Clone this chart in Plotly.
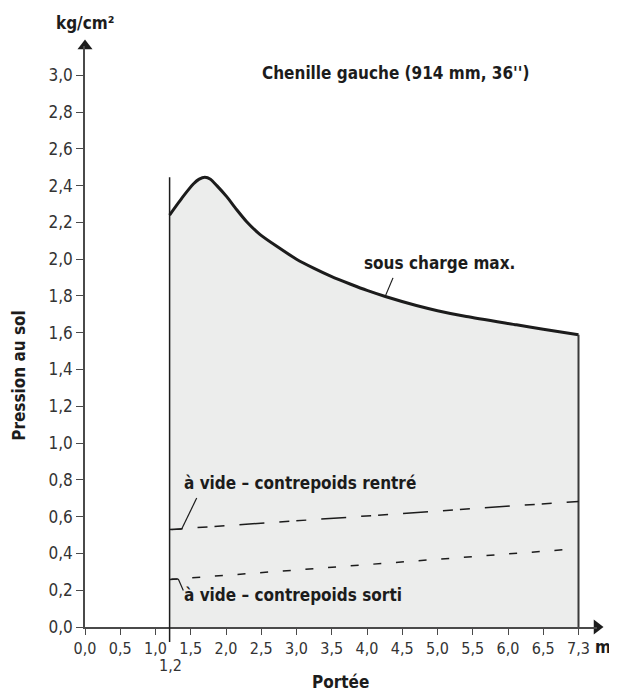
import plotly.graph_objects as go

# ---------------- data ----------------
reach_max = [1.2, 1.39, 1.54, 1.62, 1.70, 1.78, 1.87, 2.01, 2.15, 2.29, 2.48, 2.72,
             3.0, 3.25, 3.5, 3.76, 4.0, 4.26, 4.7, 5.0, 5.41, 6.12, 6.5, 7.3]
press_max = [2.24, 2.34, 2.41, 2.435, 2.445, 2.435, 2.40, 2.34, 2.27, 2.205, 2.135, 2.07,
             2.00, 1.95, 1.905, 1.865, 1.83, 1.797, 1.748, 1.72, 1.688, 1.643, 1.619, 1.589]

reach_in = [1.2, 7.3]          # à vide – contrepoids rentré
press_in = [0.53, 0.683]

reach_out = [1.2, 6.95]        # à vide – contrepoids sorti
press_out = [0.258, 0.42]

x_tick_vals = [0.0, 0.5, 1.0, 1.5, 2.0, 2.5, 3.0, 3.5, 4.0, 4.5, 5.0, 5.5, 6.0, 6.5, 7.3]
x_tick_text = ["0,0", "0,5", "1,0", "1,5", "2,0", "2,5", "3,0", "3,5", "4,0", "4,5",
               "5,0", "5,5", "6,0", "6,5", "7,3"]
y_tick_vals = [0.0, 0.2, 0.4, 0.6, 0.8, 1.0, 1.2, 1.4, 1.6, 1.8, 2.0, 2.2, 2.4, 2.6, 2.8, 3.0]
y_tick_text = ["0,0", "0,2", "0,4", "0,6", "0,8", "1,0", "1,2", "1,4", "1,6", "1,8",
               "2,0", "2,2", "2,4", "2,6", "2,8", "3,0"]

title_txt = "Chenille gauche (914 mm, 36'')"
lbl_max = "sous charge max."
lbl_in = "à vide – contrepoids rentré"
lbl_out = "à vide – contrepoids sorti"

# The original drawing compresses the last segment (6,5 -> 7,3 drawn as one 0,5 step)
def pos(x):
    return x if x <= 6.5 else 6.5 + (x - 6.5) * 0.5 / 0.8

def P(lst):
    return [pos(v) for v in lst]

# ---------------- layout geometry ----------------
OFF = 8                      # page body margin
W, H = 617 - OFF, 693 - OFF
X0_PX, Y0_PX = 85, 627.3     # reference pixel of the origin
XR_PX, YT_PX = 597, 46       # reference pixel of the plot right / top edges
L = X0_PX - OFF
T = YT_PX - OFF
R = W - (XR_PX - OFF)
B = H - (Y0_PX - OFF)
PX_PER_X = 70.5
PX_PER_Y = 184.0
x_rng = (XR_PX - X0_PX) / PX_PER_X
y_rng = (Y0_PX - YT_PX) / PX_PER_Y

def X(px):
    return (px - X0_PX) / PX_PER_X

def Y(py):
    return (Y0_PX - py) / PX_PER_Y

FONT = "Liberation Sans Narrow, DejaVu Sans Condensed, Roboto Condensed, Arial Narrow, sans-serif"
INK = "#1c1c1c"
AX = "#4a4a4a"

fig = go.Figure()

# max load curve + shaded area
fig.add_trace(go.Scatter(
    x=P(reach_max), y=press_max, mode="lines", fill="tozeroy", fillcolor="#ecedec",
    line=dict(color=INK, width=3, shape="spline", smoothing=0.6), hoverinfo="skip"))

# boundary verticals
fig.add_trace(go.Scatter(x=[pos(reach_max[0])] * 2, y=[0, max(press_max)], mode="lines",
                         line=dict(color=INK, width=1.5), hoverinfo="skip"))
fig.add_trace(go.Scatter(x=[pos(reach_max[-1])] * 2, y=[0, press_max[-1]], mode="lines",
                         line=dict(color="#3a3a3a", width=2), hoverinfo="skip"))

# empty, counterweight retracted (long-short-short dash)
dash_in = "13px,15px,10px,7px,10px,15px" + ",25px,15px,10px,7px,10px,15px" * 6
fig.add_trace(go.Scatter(x=P(reach_in), y=press_in, mode="lines",
                         line=dict(color=INK, width=1.5, dash=dash_in), hoverinfo="skip"))
# empty, counterweight extended (short dash)
fig.add_trace(go.Scatter(x=P(reach_out), y=press_out, mode="lines",
                         line=dict(color=INK, width=1.5, dash="8px,14.7px"), hoverinfo="skip"))

# axis arrow heads
fig.add_trace(go.Scatter(x=[0], y=[y_rng], mode="markers", cliponaxis=False,
                         marker=dict(symbol="triangle-up", size=13, color=INK), hoverinfo="skip"))
fig.add_trace(go.Scatter(x=[x_rng], y=[0], mode="markers", cliponaxis=False,
                         marker=dict(symbol="triangle-right", size=13, color=INK), hoverinfo="skip"))

shapes = [
    # extension of the 1,2 boundary below the axis
    dict(type="line", xref="x", yref="paper", x0=pos(reach_max[0]), x1=pos(reach_max[0]),
         y0=0, y1=-15 / (Y0_PX - YT_PX), line=dict(color=INK, width=1.5)),
    # leader: sous charge max.
    dict(type="line", xref="x", yref="y", x0=X(385), y0=Y(297), x1=X(393), y1=Y(278),
         line=dict(color=INK, width=1.2)),
    # leader: rentré
    dict(type="line", xref="x", yref="y", x0=X(171.5), y0=Y(530), x1=X(181.7), y1=Y(529.3),
         line=dict(color=INK, width=1.2)),
    dict(type="line", xref="x", yref="y", x0=X(181.7), y0=Y(529.3), x1=X(196.7), y1=Y(498.3),
         line=dict(color=INK, width=1.2)),
    # leader: sorti
    dict(type="line", xref="x", yref="y", x0=X(171.5), y0=Y(579.3), x1=X(178.3), y1=Y(579.3),
         line=dict(color=INK, width=1.2)),
    dict(type="line", xref="x", yref="y", x0=X(178.3), y0=Y(579.3), x1=X(183.3), y1=Y(590.7),
         line=dict(color=INK, width=1.2)),
]

bold = dict(family=FONT, size=17, color=INK, weight="bold")
reg = dict(family=FONT, size=16, color="#333333")
reg_y = dict(family=FONT, size=17, color="#333333")

def ann(px, py, text, font, xanchor="center", **kw):
    d = dict(xref="paper", yref="paper", x=X(px) / x_rng, y=Y(py) / y_rng,
             text=text, font=font, showarrow=False, xanchor=xanchor, yanchor="middle")
    d.update(kw)
    return d

annotations = [
    ann(395, 73, title_txt, bold),
    ann(439, 263, lbl_max, bold),
    ann(182, 483, lbl_in, bold, xanchor="left"),
    ann(182, 595, lbl_out, bold, xanchor="left"),
    ann(170, 666, "1,2", reg),
    ann(603, 647, "m", bold),
    ann(340, 682, "Portée", bold),
    ann(85, 23, "kg/cm²", bold),
    ann(19, 376, "Pression au sol", bold, textangle=-90),
]

fig.update_layout(
    width=W, height=H, margin=dict(l=L, r=R, t=T, b=B, pad=0),
    paper_bgcolor="white", plot_bgcolor="white", showlegend=False,
    shapes=shapes, annotations=annotations,
    xaxis=dict(range=[0, x_rng], tickvals=P(x_tick_vals), ticktext=x_tick_text,
               showgrid=False, zeroline=False, showline=True, linecolor=AX, linewidth=1.5,
               ticks="outside", ticklen=6, tickwidth=1.2, tickcolor=AX,
               tickfont=reg, fixedrange=True),
    yaxis=dict(range=[0, y_rng], tickvals=y_tick_vals, ticktext=y_tick_text,
               showgrid=False, zeroline=False, showline=True, linecolor=AX, linewidth=1.5,
               ticks="outside", ticklen=7, tickwidth=1.2, tickcolor=AX,
               tickfont=reg_y, fixedrange=True),
)

fig.write_html("out.html")
